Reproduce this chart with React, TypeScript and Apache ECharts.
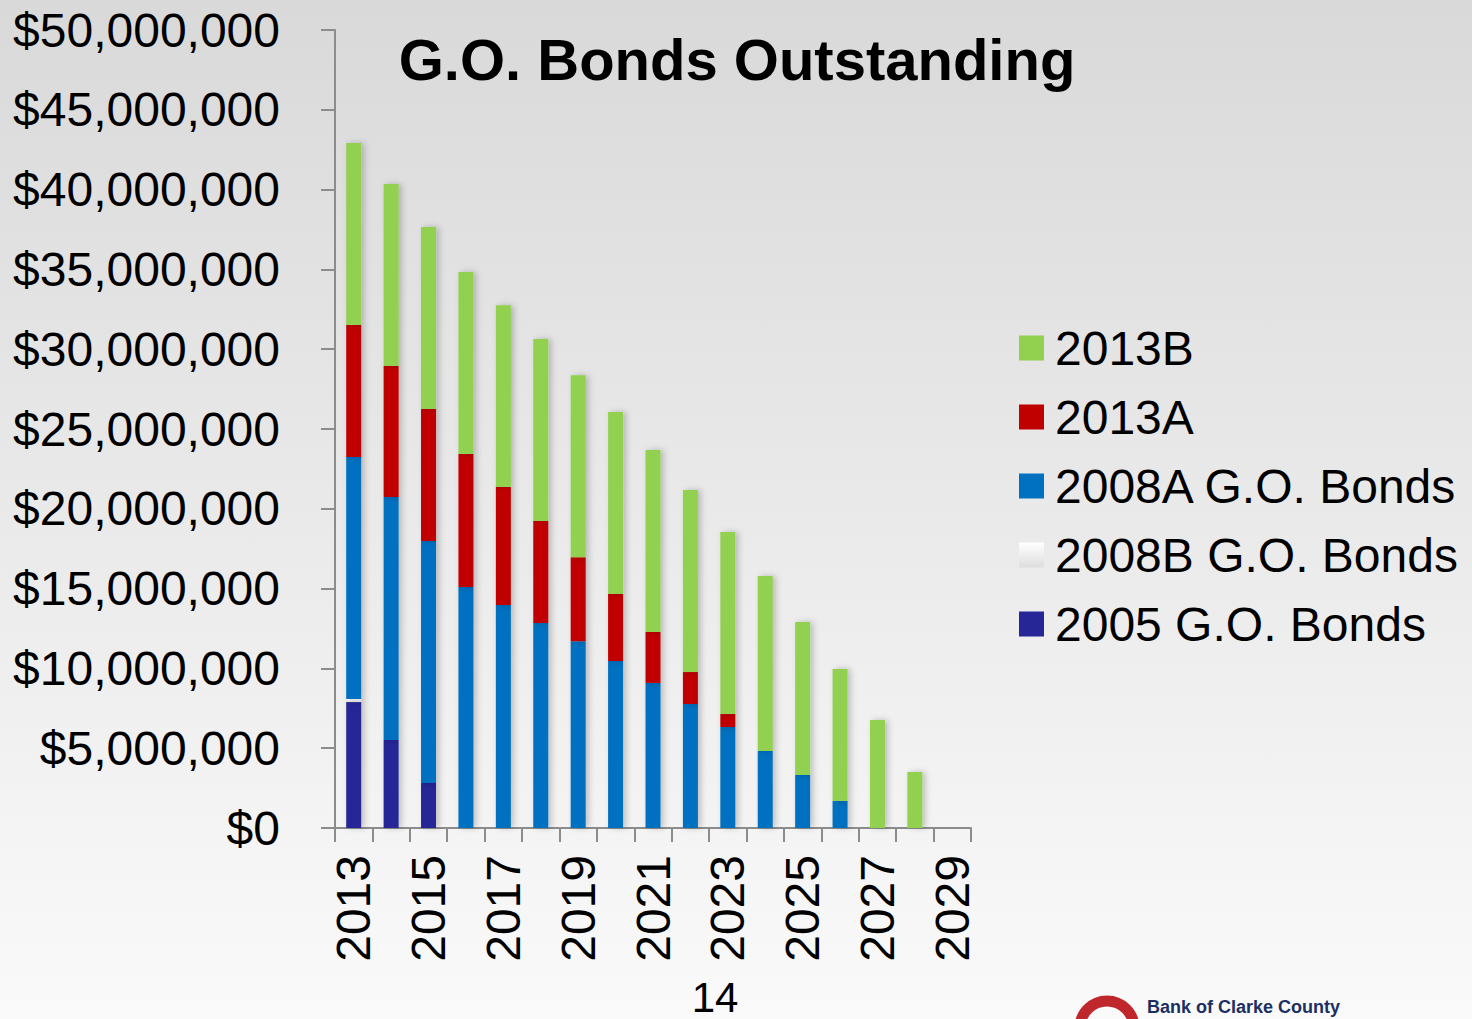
import React, { useEffect, useRef } from "react";
import * as echarts from "echarts";

const years = ["2013","2014","2015","2016","2017","2018","2019","2020","2021","2022","2023","2024","2025","2026","2027","2028","2029"];
const go2005 = [7890000, 5510000, 2820000, 0, 0, 0, 0, 0, 0, 0, 0, 0, 0, 0, 0, 0, 0];
const go2008B = [190000, 0, 0, 0, 0, 0, 0, 0, 0, 0, 0, 0, 0, 0, 0, 0, 0];
const go2008A = [15170000, 15230000, 15160000, 15100000, 13970000, 12840000, 11700000, 10460000, 9090000, 7770000, 6330000, 4820000, 3320000, 1690000, 0, 0, 0];
const s2013A = [8270000, 8210000, 8270000, 8330000, 7390000, 6400000, 5260000, 4200000, 3190000, 2000000, 810000, 0, 0, 0, 0, 0, 0];
const s2013B = [11400000, 11400000, 11410000, 11410000, 11400000, 11400000, 11400000, 11410000, 11400000, 11410000, 11410000, 10970000, 9590000, 8270000, 6770000, 3510000, 0];
const yMin = 0;
const yMax = 50000000;
const yStep = 5000000;
const legendOrder = ["2013B", "2013A", "2008A G.O. Bonds", "2008B G.O. Bonds", "2005 G.O. Bonds"];

const FONT = 'Arial, "Liberation Sans", sans-serif';

export default function App() {
  const ref = useRef<HTMLDivElement>(null);
  useEffect(() => {
    document.body.style.margin = "0";
    const chart = echarts.init(ref.current!, null, { renderer: "svg" });
    const nz = (arr: number[]) => arr.map((v) => (v === 0 ? null : v));
    const barShadow = {
      shadowBlur: 6,
      shadowColor: "rgba(0,0,0,0.22)",
      shadowOffsetX: 3,
      shadowOffsetY: 0,
    };
    const mk = (name: string, data: number[], color: any) => ({
      name,
      type: "bar",
      stack: "total",
      barWidth: 15,
      data: nz(data),
      itemStyle: { color, ...barShadow },
    });
    const whiteGrad = new echarts.graphic.LinearGradient(0, 0, 0, 1, [
      { offset: 0, color: "#ffffff" },
      { offset: 1, color: "#dedede" },
    ]);
    const option = {
      animation: false,
      backgroundColor: new echarts.graphic.LinearGradient(0, 0, 0, 1, [
        { offset: 0, color: "#d9d9d9" },
        { offset: 1, color: "#fafafa" },
      ]),
      textStyle: { fontFamily: FONT },
      grid: { left: 335, right: 501, top: 30, bottom: 191, containLabel: false },
      legend: {
        data: legendOrder,
        orient: "vertical",
        left: 1014,
        top: 319,
        itemWidth: 25,
        itemHeight: 25,
        itemGap: 21,
        icon: "rect",
        selectedMode: false,
        textStyle: {
          fontSize: 48,
          lineHeight: 48,
          color: "#000",
          fontFamily: FONT,
          padding: [0, 0, 0, 6],
        },
      },
      xAxis: {
        type: "category",
        data: years,
        boundaryGap: true,
        axisLine: { show: true, lineStyle: { color: "#8c8c8c", width: 2 } },
        axisTick: { show: true, interval: 0, length: 14, lineStyle: { color: "#8c8c8c", width: 2 } },
        axisLabel: {
          interval: 1,
          rotate: 90,
          margin: 27,
          fontSize: 48,
          color: "#000",
          fontFamily: FONT,
        },
        splitLine: { show: false },
      },
      yAxis: {
        type: "value",
        min: yMin,
        max: yMax,
        interval: yStep,
        axisLine: { show: true, lineStyle: { color: "#8c8c8c", width: 2 } },
        axisTick: { show: true, length: 14, lineStyle: { color: "#8c8c8c", width: 2 } },
        axisLabel: {
          margin: 55,
          fontSize: 48,
          color: "#000",
          fontFamily: FONT,
          formatter: (v: number) => "$" + v.toLocaleString("en-US"),
        },
        splitLine: {
          show: true,
          lineStyle: {
            color: "#8c8c8c",
            width: 2,
            shadowBlur: 3,
            shadowOffsetY: 2,
            shadowColor: "rgba(0,0,0,0.2)",
          },
        },
      },
      series: [
        mk("2005 G.O. Bonds", go2005, "#262696"),
        mk("2008B G.O. Bonds", go2008B, whiteGrad),
        mk("2008A G.O. Bonds", go2008A, "#0070c0"),
        mk("2013A", s2013A, "#c00000"),
        mk("2013B", s2013B, "#92d050"),
      ],
      graphic: [
        {
          type: "text",
          x: 737,
          y: 59,
          style: {
            text: "G.O. Bonds Outstanding",
            fontSize: 58,
            fontWeight: "bold",
            fontFamily: FONT,
            fill: "#000",
            textAlign: "center",
            textVerticalAlign: "middle",
          },
        },
        {
          type: "text",
          x: 715,
          y: 997,
          style: {
            text: "14",
            fontSize: 42,
            lineHeight: 42,
            fontFamily: FONT,
            fill: "#000",
            textAlign: "center",
            textVerticalAlign: "middle",
          },
        },
        {
          type: "arc",
          shape: { cx: 1107, cy: 1028, r: 27, startAngle: Math.PI, endAngle: Math.PI * 2 },
          style: { stroke: "#c0272d", lineWidth: 11, fill: "none" },
        },
        {
          type: "text",
          x: 1147,
          y: 997,
          style: {
            text: "Bank of Clarke County",
            fontSize: 18,
            lineHeight: 20,
            fontWeight: "bold",
            fontFamily: FONT,
            fill: "#1b2f63",
            textAlign: "left",
            textVerticalAlign: "top",
          },
        },
      ],
    };
    chart.setOption(option as any);
    return () => chart.dispose();
  }, []);
  return (
    <div
      ref={ref}
      style={{ position: "absolute", left: 0, top: 0, width: 1472, height: 1019 }}
    />
  );
}
